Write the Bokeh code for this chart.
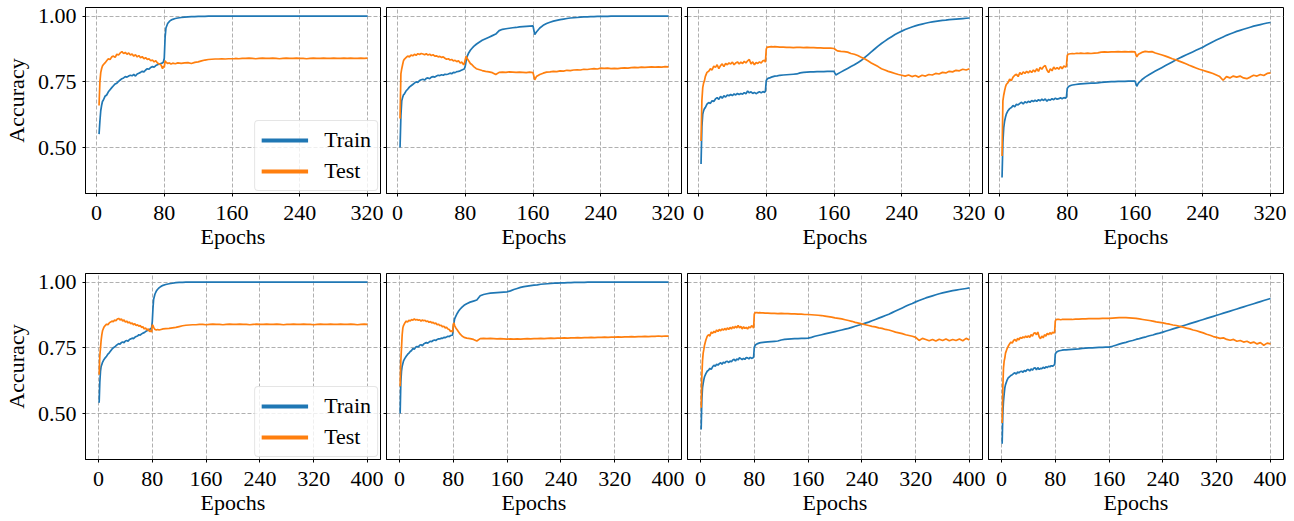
from bokeh.plotting import figure
from bokeh.layouts import column, row
from bokeh.models import Range1d, FixedTicker, NumeralTickFormatter, Legend, LegendItem
from bokeh.embed import file_html
from bokeh.resources import INLINE

FONT = "Liberation Serif"
BLUE = "#1f77b4"
ORANGE = "#ff7f0e"

XTICKS_TOP = [0, 80, 160, 240, 320]
XTICKS_BOTTOM = [0, 80, 160, 240, 320, 400]
YTICKS = [0.5, 0.75, 1.0]
X_LABEL = "Epochs"
Y_LABEL = "Accuracy"
SERIES = ["Train", "Test"]

# ---------------- top row (320 epochs) ----------------
TOP_EPOCHS = [3, 4, 5, 6, 7, 8, 10, 12, 14, 16, 18, 20, 22, 24, 26, 28, 30, 32, 34, 36,
              38, 40, 42, 44, 46, 48, 50, 52, 54, 56, 58, 60, 62, 64, 66, 68, 70, 72, 74, 76, 78, 79,
              80, 81, 82, 84, 86, 88, 90, 93, 96, 100,
              104, 108, 112, 116, 120, 124, 128, 132, 136, 140, 144, 148, 152, 156, 160, 162,
              164, 168, 172, 176, 180, 184, 188, 192, 196, 200, 204, 208, 212, 216, 220, 224, 228, 232, 236, 240,
              244, 248, 252, 256, 260, 264, 268, 272, 276, 280, 284, 288, 292, 296, 300, 304, 308, 312, 316, 320]

P1_TRAIN = [0.551, 0.600, 0.640, 0.660, 0.675, 0.680, 0.695, 0.700, 0.712, 0.720,
            0.728, 0.735, 0.742, 0.745, 0.752, 0.757, 0.762, 0.765, 0.770, 0.768,
            0.772, 0.775, 0.773, 0.778, 0.772, 0.780, 0.783, 0.786, 0.790, 0.788,
            0.795, 0.800, 0.798, 0.805, 0.808, 0.806, 0.812, 0.815, 0.818, 0.820,
            0.822, 0.826,
            0.840, 0.920, 0.955, 0.972, 0.980, 0.985, 0.988, 0.991, 0.993, 0.995,
            0.996, 0.997, 0.998, 0.998, 0.999, 0.999, 0.999, 1.0, 1.0, 1.0, 1.0, 1.0, 1.0, 1.0, 1.0, 1.0,
            1.0, 1.0, 1.0, 1.0, 1.0, 1.0, 1.0, 1.0, 1.0, 1.0, 1.0, 1.0, 1.0, 1.0, 1.0, 1.0, 1.0, 1.0, 1.0, 1.0,
            1.0, 1.0, 1.0, 1.0, 1.0, 1.0, 1.0, 1.0, 1.0, 1.0, 1.0, 1.0, 1.0, 1.0, 1.0, 1.0, 1.0, 1.0, 1.0, 1.0]
P1_TEST = [0.660, 0.750, 0.785, 0.800, 0.810, 0.815, 0.822, 0.830, 0.838, 0.835,
           0.845, 0.848, 0.843, 0.855, 0.852, 0.860, 0.865, 0.858, 0.862, 0.855,
           0.860, 0.852, 0.856, 0.848, 0.853, 0.845, 0.850, 0.842, 0.846, 0.838,
           0.842, 0.835, 0.838, 0.830, 0.833, 0.826, 0.830, 0.822, 0.818, 0.815,
           0.800, 0.810,
           0.805, 0.830, 0.825, 0.820, 0.822, 0.818, 0.821, 0.819, 0.822, 0.820,
           0.822, 0.823, 0.820, 0.824, 0.826, 0.830, 0.833, 0.835, 0.836, 0.837, 0.837, 0.838, 0.837, 0.838, 0.838, 0.838,
           0.839, 0.838, 0.839, 0.839, 0.840, 0.839, 0.838, 0.839, 0.840, 0.839, 0.839, 0.840, 0.839, 0.838, 0.839, 0.840, 0.839, 0.839, 0.840, 0.839,
           0.839, 0.838, 0.839, 0.840, 0.839, 0.839, 0.840, 0.839, 0.839, 0.840, 0.839, 0.839, 0.840, 0.839, 0.840, 0.839, 0.839, 0.840, 0.839, 0.840]

P2_TRAIN = [0.500, 0.620, 0.678, 0.690, 0.700, 0.703, 0.715, 0.722, 0.730, 0.735,
            0.740, 0.745, 0.750, 0.748, 0.755, 0.758, 0.760, 0.757, 0.763, 0.765,
            0.762, 0.768, 0.770, 0.768, 0.772, 0.775, 0.774, 0.777, 0.775, 0.779,
            0.778, 0.780, 0.783, 0.781, 0.786, 0.785, 0.789, 0.790, 0.792, 0.795,
            0.798, 0.800,
            0.810, 0.830, 0.845, 0.860, 0.870, 0.878, 0.885, 0.893, 0.900, 0.908,
            0.914, 0.920, 0.926, 0.932, 0.945, 0.950, 0.952, 0.954, 0.956, 0.957, 0.959, 0.960, 0.961, 0.962, 0.963, 0.930,
            0.940, 0.955, 0.965, 0.972, 0.977, 0.981, 0.984, 0.987, 0.989, 0.991, 0.993, 0.994, 0.995, 0.996, 0.997, 0.997, 0.998, 0.998, 0.999, 0.999,
            0.999, 0.999, 1.0, 1.0, 1.0, 1.0, 1.0, 1.0, 1.0, 1.0, 1.0, 1.0, 1.0, 1.0, 1.0, 1.0, 1.0, 1.0, 1.0, 1.0]
P2_TEST = [0.610, 0.780, 0.800, 0.815, 0.830, 0.836, 0.842, 0.848, 0.845, 0.852,
           0.849, 0.855, 0.851, 0.857, 0.854, 0.858, 0.856, 0.853, 0.857, 0.852,
           0.855, 0.850, 0.853, 0.848, 0.849, 0.845, 0.847, 0.843, 0.845, 0.840,
           0.836, 0.838, 0.833, 0.835, 0.830, 0.832, 0.827, 0.830, 0.822, 0.825,
           0.815, 0.820,
           0.835, 0.848, 0.840, 0.830, 0.820, 0.815, 0.808, 0.800, 0.797, 0.793,
           0.790, 0.788, 0.785, 0.778, 0.786, 0.787, 0.786, 0.788, 0.787, 0.786, 0.787, 0.786, 0.785, 0.787, 0.785, 0.758,
           0.770, 0.778, 0.783, 0.787, 0.788, 0.790, 0.789, 0.792, 0.791, 0.794, 0.793, 0.795, 0.796, 0.795, 0.798, 0.797, 0.799, 0.800, 0.799, 0.802,
           0.801, 0.802, 0.800, 0.801, 0.800, 0.802, 0.803, 0.802, 0.804, 0.805, 0.804, 0.806, 0.805, 0.806, 0.807, 0.806, 0.807, 0.806, 0.808, 0.807]

P3_TRAIN = [0.437, 0.580, 0.627, 0.640, 0.648, 0.652, 0.665, 0.671, 0.668, 0.678,
            0.675, 0.685, 0.690, 0.683, 0.695, 0.688, 0.697, 0.692, 0.700, 0.697,
            0.702, 0.698, 0.704, 0.700, 0.706, 0.702, 0.706, 0.703, 0.709, 0.705,
            0.715, 0.708, 0.712, 0.706, 0.710, 0.705, 0.709, 0.712, 0.708, 0.713,
            0.710, 0.715,
            0.755, 0.760, 0.763, 0.765, 0.768, 0.770, 0.772, 0.773, 0.775, 0.776,
            0.777, 0.778, 0.779, 0.780, 0.784, 0.786, 0.787, 0.788, 0.788, 0.789, 0.789, 0.789, 0.790, 0.790, 0.790, 0.776,
            0.780, 0.787, 0.794, 0.801, 0.808, 0.815, 0.823, 0.831, 0.842, 0.853, 0.864, 0.875, 0.886, 0.896, 0.905, 0.914, 0.922, 0.930, 0.937, 0.943,
            0.949, 0.954, 0.959, 0.963, 0.967, 0.970, 0.973, 0.976, 0.978, 0.980, 0.982, 0.984, 0.985, 0.987, 0.988, 0.989, 0.990, 0.991, 0.992, 0.993]
P3_TEST = [0.525, 0.680, 0.728, 0.745, 0.754, 0.770, 0.786, 0.790, 0.800, 0.795,
           0.810, 0.805, 0.815, 0.800, 0.812, 0.818, 0.808, 0.820, 0.815, 0.822,
           0.818, 0.825, 0.815, 0.822, 0.826, 0.818, 0.825, 0.820, 0.828, 0.822,
           0.830, 0.835, 0.818, 0.826, 0.815, 0.824, 0.820, 0.826, 0.822, 0.830,
           0.832, 0.825,
           0.875, 0.882, 0.882, 0.883, 0.884, 0.883, 0.884, 0.883, 0.882, 0.882,
           0.881, 0.881, 0.880, 0.881, 0.881, 0.880, 0.881, 0.880, 0.880, 0.879, 0.879, 0.878, 0.878, 0.878, 0.877, 0.872,
           0.868, 0.866, 0.865, 0.863, 0.858, 0.855, 0.850, 0.844, 0.838, 0.830, 0.822, 0.815, 0.808, 0.800, 0.795, 0.790, 0.786, 0.782, 0.778, 0.775,
           0.772, 0.776, 0.770, 0.774, 0.768, 0.775, 0.772, 0.778, 0.776, 0.782, 0.780, 0.786, 0.784, 0.790, 0.788, 0.794, 0.792, 0.798, 0.795, 0.800]

P4_TRAIN = [0.386, 0.520, 0.576, 0.600, 0.615, 0.627, 0.640, 0.648, 0.652, 0.660,
            0.655, 0.665, 0.662, 0.668, 0.672, 0.666, 0.674, 0.670, 0.676, 0.672,
            0.679, 0.675, 0.680, 0.676, 0.682, 0.678, 0.684, 0.679, 0.685, 0.676,
            0.683, 0.680, 0.686, 0.682, 0.688, 0.684, 0.686, 0.689, 0.686, 0.690,
            0.688, 0.692,
            0.725, 0.730, 0.733, 0.736, 0.738, 0.739, 0.740, 0.741, 0.742, 0.743,
            0.744, 0.745, 0.745, 0.746, 0.748, 0.749, 0.750, 0.751, 0.751, 0.752, 0.752, 0.752, 0.753, 0.753, 0.753, 0.733,
            0.745, 0.758, 0.768, 0.776, 0.784, 0.791, 0.798, 0.805, 0.812, 0.819, 0.826, 0.833, 0.840, 0.846, 0.852, 0.858, 0.864, 0.870, 0.876, 0.882,
            0.889, 0.896, 0.903, 0.909, 0.915, 0.921, 0.927, 0.932, 0.937, 0.942, 0.946, 0.950, 0.954, 0.958, 0.962, 0.965, 0.968, 0.971, 0.974, 0.976]
P4_TEST = [0.468, 0.678, 0.700, 0.716, 0.730, 0.740, 0.747, 0.760, 0.755, 0.768,
           0.775, 0.779, 0.770, 0.785, 0.778, 0.788, 0.782, 0.790, 0.784, 0.792,
           0.786, 0.795, 0.788, 0.800, 0.790, 0.805, 0.798, 0.808, 0.812, 0.795,
           0.785, 0.800, 0.792, 0.806, 0.798, 0.804, 0.798, 0.808, 0.800, 0.810,
           0.806, 0.810,
           0.850, 0.855, 0.856, 0.857, 0.858, 0.857, 0.858, 0.858, 0.859, 0.858,
           0.859, 0.858, 0.859, 0.860, 0.863, 0.864, 0.863, 0.864, 0.864, 0.865, 0.864, 0.865, 0.864, 0.865, 0.864, 0.845,
           0.855, 0.862, 0.866, 0.864, 0.865, 0.860, 0.856, 0.852, 0.848, 0.843, 0.838, 0.834, 0.829, 0.824, 0.819, 0.813, 0.808, 0.803, 0.798, 0.794,
           0.790, 0.786, 0.782, 0.776, 0.770, 0.756, 0.770, 0.765, 0.772, 0.768, 0.772, 0.765, 0.762, 0.768, 0.775, 0.772, 0.778, 0.774, 0.782, 0.784]

# ---------------- bottom row (400 epochs) ----------------
BOTTOM_EPOCHS = [1, 2, 3, 4, 5, 6, 8, 10, 12, 14, 16, 18, 20, 22, 24, 26, 28, 30, 32, 34,
                 36, 38, 40, 42, 44, 46, 48, 50, 52, 54, 56, 58, 60, 62, 64, 66, 68, 70, 72, 74, 76, 78, 79,
                 80, 81, 82, 84, 86, 88, 90, 93, 96, 100,
                 105, 110, 115, 120, 125, 130, 135, 140, 145, 150, 155, 160, 165, 170, 175, 180, 185, 190, 195, 200,
                 205, 210, 215, 220, 225, 230, 235, 240, 245, 250, 255, 260, 265, 270, 275, 280, 285, 290, 295, 300,
                 305, 310, 315, 320, 325, 330, 335, 340, 345, 350, 355, 360, 365, 370, 375, 380, 385, 390, 395, 400]

P5_TRAIN = [0.541, 0.620, 0.661, 0.680, 0.687, 0.695, 0.705, 0.712, 0.718, 0.726,
            0.731, 0.738, 0.745, 0.750, 0.753, 0.758, 0.762, 0.766, 0.764, 0.770,
            0.772, 0.770, 0.776, 0.778, 0.775, 0.782, 0.784, 0.787, 0.785, 0.790,
            0.793, 0.795, 0.800, 0.798, 0.803, 0.806, 0.808, 0.812, 0.815, 0.818,
            0.820, 0.824, 0.826,
            0.850, 0.900, 0.935, 0.955, 0.966, 0.973, 0.978, 0.984, 0.988, 0.991,
            0.994, 0.996, 0.998, 0.999, 0.999, 1.0, 1.0, 1.0, 1.0, 1.0,
            1.0, 1.0, 1.0, 1.0, 1.0, 1.0, 1.0, 1.0, 1.0, 1.0,
            1.0, 1.0, 1.0, 1.0, 1.0, 1.0, 1.0, 1.0, 1.0, 1.0,
            1.0, 1.0, 1.0, 1.0, 1.0, 1.0, 1.0, 1.0, 1.0, 1.0,
            1.0, 1.0, 1.0, 1.0, 1.0, 1.0, 1.0, 1.0, 1.0, 1.0,
            1.0, 1.0, 1.0, 1.0, 1.0, 1.0, 1.0, 1.0, 1.0, 1.0]
P5_TEST = [0.648, 0.720, 0.750, 0.780, 0.800, 0.815, 0.828, 0.835, 0.840, 0.838,
           0.845, 0.848, 0.852, 0.849, 0.856, 0.853, 0.860, 0.862, 0.856, 0.860,
           0.852, 0.856, 0.848, 0.852, 0.845, 0.848, 0.842, 0.845, 0.838, 0.842,
           0.835, 0.838, 0.832, 0.835, 0.828, 0.830, 0.822, 0.826, 0.818, 0.822,
           0.812, 0.815, 0.810,
           0.838, 0.835, 0.828, 0.820, 0.818, 0.820, 0.818, 0.820, 0.822, 0.823,
           0.824, 0.826, 0.828, 0.831, 0.834, 0.836, 0.837, 0.838, 0.838, 0.839,
           0.839, 0.838, 0.839, 0.840, 0.839, 0.839, 0.838, 0.839, 0.840, 0.839,
           0.839, 0.840, 0.839, 0.839, 0.838, 0.839, 0.840, 0.839, 0.839, 0.840,
           0.839, 0.839, 0.840, 0.839, 0.838, 0.839, 0.839, 0.840, 0.839, 0.839,
           0.840, 0.839, 0.839, 0.838, 0.839, 0.840, 0.839, 0.839, 0.840, 0.839,
           0.839, 0.840, 0.839, 0.839, 0.840, 0.839, 0.838, 0.839, 0.840, 0.839]

P6_TRAIN = [0.500, 0.620, 0.661, 0.680, 0.690, 0.700, 0.710, 0.718, 0.725, 0.730,
            0.736, 0.740, 0.748, 0.745, 0.752, 0.755, 0.753, 0.760, 0.762, 0.758,
            0.765, 0.768, 0.770, 0.768, 0.772, 0.775, 0.774, 0.778, 0.780, 0.778,
            0.782, 0.784, 0.784, 0.787, 0.786, 0.790, 0.789, 0.791, 0.794, 0.793,
            0.797, 0.798, 0.800,
            0.830, 0.845, 0.860, 0.872, 0.882, 0.890, 0.897, 0.905, 0.912, 0.918,
            0.924, 0.928, 0.932, 0.948, 0.953, 0.956, 0.958, 0.959, 0.960, 0.961,
            0.962, 0.963, 0.967, 0.972, 0.976, 0.980, 0.983, 0.985, 0.987, 0.989,
            0.990, 0.992, 0.993, 0.994, 0.995, 0.996, 0.996, 0.997, 0.997, 0.998,
            0.998, 0.999, 0.999, 0.999, 0.999, 1.0, 1.0, 1.0, 1.0, 1.0,
            1.0, 1.0, 1.0, 1.0, 1.0, 1.0, 1.0, 1.0, 1.0, 1.0,
            1.0, 1.0, 1.0, 1.0, 1.0, 1.0, 1.0, 1.0, 1.0, 1.0]
P6_TEST = [0.604, 0.700, 0.750, 0.800, 0.826, 0.835, 0.845, 0.852, 0.848, 0.855,
           0.852, 0.858, 0.855, 0.860, 0.856, 0.858, 0.855, 0.857, 0.852, 0.856,
           0.853, 0.855, 0.850, 0.852, 0.847, 0.850, 0.845, 0.847, 0.842, 0.844,
           0.838, 0.840, 0.835, 0.836, 0.830, 0.832, 0.826, 0.828, 0.822, 0.820,
           0.812, 0.815, 0.810,
           0.840, 0.845, 0.835, 0.825, 0.818, 0.810, 0.803, 0.795, 0.790, 0.787,
           0.785, 0.782, 0.776, 0.785, 0.786, 0.785, 0.786, 0.785, 0.784, 0.785,
           0.784, 0.783, 0.784, 0.783, 0.784, 0.783, 0.784, 0.785, 0.784, 0.785,
           0.785, 0.786, 0.785, 0.786, 0.787, 0.786, 0.787, 0.787, 0.788, 0.787,
           0.788, 0.788, 0.789, 0.788, 0.789, 0.789, 0.790, 0.789, 0.790, 0.790,
           0.791, 0.790, 0.791, 0.791, 0.792, 0.791, 0.792, 0.792, 0.793, 0.792,
           0.793, 0.793, 0.794, 0.793, 0.794, 0.794, 0.795, 0.794, 0.795, 0.795]

P7_TRAIN = [0.439, 0.550, 0.598, 0.615, 0.629, 0.640, 0.652, 0.661, 0.665, 0.672,
            0.668, 0.678, 0.684, 0.680, 0.688, 0.684, 0.690, 0.693, 0.688, 0.695,
            0.692, 0.698, 0.699, 0.694, 0.700, 0.697, 0.704, 0.706, 0.700, 0.708,
            0.704, 0.712, 0.709, 0.705, 0.710, 0.706, 0.713, 0.712, 0.708, 0.714,
            0.710, 0.712, 0.715,
            0.752, 0.758, 0.762, 0.765, 0.767, 0.769, 0.770, 0.771, 0.772, 0.773,
            0.774, 0.775, 0.776, 0.780, 0.782, 0.783, 0.784, 0.785, 0.785, 0.786,
            0.786, 0.787, 0.790, 0.794, 0.797, 0.800, 0.803, 0.806, 0.809, 0.812,
            0.815, 0.818, 0.821, 0.824, 0.828, 0.832, 0.836, 0.840, 0.844, 0.848,
            0.853, 0.858, 0.863, 0.868, 0.873, 0.878, 0.884, 0.890, 0.896, 0.902,
            0.908, 0.914, 0.919, 0.925, 0.930, 0.935, 0.940, 0.944, 0.948, 0.952,
            0.956, 0.959, 0.962, 0.965, 0.968, 0.970, 0.972, 0.974, 0.976, 0.978]
P7_TEST = [0.522, 0.640, 0.700, 0.730, 0.744, 0.760, 0.780, 0.794, 0.800, 0.795,
           0.810, 0.805, 0.813, 0.808, 0.818, 0.812, 0.820, 0.815, 0.822, 0.817,
           0.824, 0.818, 0.826, 0.820, 0.828, 0.822, 0.830, 0.825, 0.832, 0.826,
           0.835, 0.826, 0.832, 0.822, 0.830, 0.824, 0.828, 0.822, 0.830, 0.826,
           0.834, 0.830, 0.825,
           0.878, 0.883, 0.884, 0.884, 0.883, 0.884, 0.883, 0.883, 0.882, 0.882,
           0.881, 0.881, 0.880, 0.881, 0.880, 0.880, 0.879, 0.879, 0.878, 0.878,
           0.877, 0.877, 0.876, 0.875, 0.874, 0.873, 0.871, 0.869, 0.867, 0.864,
           0.862, 0.860, 0.857, 0.854, 0.851, 0.847, 0.844, 0.841, 0.838, 0.835,
           0.832, 0.830, 0.826, 0.824, 0.820, 0.818, 0.814, 0.810, 0.807, 0.804,
           0.800, 0.797, 0.794, 0.790, 0.778, 0.786, 0.782, 0.777, 0.782, 0.776,
           0.783, 0.778, 0.784, 0.777, 0.782, 0.778, 0.784, 0.777, 0.786, 0.780]

P8_TRAIN = [0.385, 0.500, 0.547, 0.575, 0.598, 0.610, 0.625, 0.636, 0.640, 0.645,
            0.648, 0.652, 0.655, 0.650, 0.658, 0.655, 0.660, 0.661, 0.657, 0.664,
            0.660, 0.667, 0.667, 0.662, 0.670, 0.665, 0.672, 0.674, 0.666, 0.675,
            0.668, 0.672, 0.671, 0.676, 0.672, 0.678, 0.675, 0.680, 0.678, 0.682,
            0.680, 0.684, 0.686,
            0.726, 0.731, 0.734, 0.737, 0.739, 0.740, 0.741, 0.742, 0.742, 0.743,
            0.744, 0.745, 0.746, 0.748, 0.749, 0.750, 0.750, 0.751, 0.752, 0.752,
            0.753, 0.753, 0.756, 0.760, 0.764, 0.768, 0.771, 0.775, 0.778, 0.782,
            0.785, 0.789, 0.792, 0.796, 0.799, 0.803, 0.806, 0.810, 0.814, 0.818,
            0.822, 0.826, 0.830, 0.834, 0.838, 0.842, 0.846, 0.850, 0.854, 0.858,
            0.862, 0.866, 0.870, 0.874, 0.878, 0.882, 0.886, 0.890, 0.894, 0.898,
            0.902, 0.906, 0.910, 0.914, 0.918, 0.922, 0.926, 0.930, 0.934, 0.938]
P8_TEST = [0.464, 0.600, 0.674, 0.700, 0.712, 0.730, 0.745, 0.756, 0.765, 0.772,
           0.768, 0.778, 0.782, 0.775, 0.786, 0.780, 0.790, 0.786, 0.792, 0.788,
           0.795, 0.790, 0.796, 0.790, 0.800, 0.795, 0.805, 0.807, 0.800, 0.810,
           0.792, 0.785, 0.795, 0.788, 0.800, 0.795, 0.805, 0.800, 0.808, 0.802,
           0.810, 0.806, 0.810,
           0.852, 0.857, 0.858, 0.858, 0.858, 0.857, 0.858, 0.858, 0.858, 0.858,
           0.858, 0.859, 0.859, 0.860, 0.860, 0.861, 0.861, 0.861, 0.861, 0.862,
           0.862, 0.862, 0.863, 0.864, 0.865, 0.865, 0.865, 0.864, 0.863, 0.862,
           0.860, 0.858, 0.856, 0.854, 0.852, 0.849, 0.847, 0.845, 0.842, 0.840,
           0.837, 0.835, 0.832, 0.829, 0.825, 0.822, 0.818, 0.815, 0.811, 0.807,
           0.802, 0.798, 0.793, 0.790, 0.786, 0.788, 0.782, 0.779, 0.782, 0.775,
           0.778, 0.772, 0.775, 0.768, 0.772, 0.765, 0.770, 0.760, 0.768, 0.765]


def make_panel(xs, train, test, xticks, xr, first, top_row):
    if not (len(xs) == len(train) == len(test)):
        raise ValueError("length mismatch %d %d %d" % (len(xs), len(train), len(test)))
    p = figure(frame_width=295, frame_height=186,
               x_range=Range1d(*xr), y_range=Range1d(0.325, 1.033),
               output_backend="svg", toolbar_location=None,
               min_border_left=84 if first else 3, min_border_right=3,
               min_border_top=7 if top_row else 12,
               min_border_bottom=68 if top_row else 58)
    p.background_fill_color = "white"
    p.border_fill_color = "white"
    p.outline_line_color = "black"
    p.outline_line_width = 1
    p.outline_line_alpha = 1

    p.line(xs, train, color=BLUE, line_width=1.7)
    p.line(xs, test, color=ORANGE, line_width=1.7)

    for ax in (p.xaxis[0], p.yaxis[0]):
        ax.axis_line_color = "black"
        ax.major_tick_line_color = "black"
        ax.major_tick_out = 3
        ax.major_tick_in = 0
        ax.minor_tick_line_color = None
        ax.major_label_text_font = FONT
        ax.major_label_text_font_size = "22px"
        ax.major_label_text_color = "black"
        ax.axis_label_text_font = FONT
        ax.axis_label_text_font_size = "22px"
        ax.axis_label_text_font_style = "normal"
        ax.axis_label_text_color = "black"

    p.xaxis.ticker = FixedTicker(ticks=xticks)
    p.yaxis.ticker = FixedTicker(ticks=YTICKS)
    p.xaxis.axis_label = X_LABEL
    p.xaxis.major_label_standoff = 9
    p.xaxis.axis_label_standoff = 1
    if first:
        p.yaxis.formatter = NumeralTickFormatter(format="0.00")
        p.yaxis.axis_label = Y_LABEL
        p.yaxis.major_label_standoff = 6
        p.yaxis.axis_label_standoff = 6
    else:
        p.yaxis.major_label_overrides = {t: "" for t in YTICKS}
        p.yaxis.major_label_standoff = 0

    for g, t in ((p.xgrid[0], xticks), (p.ygrid[0], YTICKS)):
        g.ticker = FixedTicker(ticks=t)
        g.grid_line_color = "#b0b0b0"
        g.grid_line_dash = "4 2"
        g.grid_line_width = 1

    if first:
        nan = float("nan")
        lt = p.line([nan], [nan], color=BLUE, line_width=4)
        lo = p.line([nan], [nan], color=ORANGE, line_width=4)
        leg = Legend(items=[LegendItem(label=SERIES[0], renderers=[lt]),
                            LegendItem(label=SERIES[1], renderers=[lo])],
                     location="bottom_right")
        leg.label_text_font = FONT
        leg.label_text_font_size = "22px"
        leg.label_text_color = "black"
        leg.glyph_width = 47
        leg.glyph_height = 22
        leg.label_height = 22
        leg.label_standoff = 16
        leg.padding = 6
        leg.spacing = 5
        leg.margin = 2
        leg.border_line_color = "#cccccc"
        leg.border_line_width = 1
        leg.background_fill_alpha = 0.8
        if "border_radius" in Legend.properties():
            leg.border_radius = 4
        p.add_layout(leg)
    return p


TOP_RANGE = (-13, 335.3)
BOTTOM_RANGE = (-19.3, 419.3)

top = [make_panel(TOP_EPOCHS, tr, te, XTICKS_TOP, TOP_RANGE, i == 0, True)
       for i, (tr, te) in enumerate([(P1_TRAIN, P1_TEST), (P2_TRAIN, P2_TEST),
                                     (P3_TRAIN, P3_TEST), (P4_TRAIN, P4_TEST)])]
bottom = [make_panel(BOTTOM_EPOCHS, tr, te, XTICKS_BOTTOM, BOTTOM_RANGE, i == 0, False)
          for i, (tr, te) in enumerate([(P5_TRAIN, P5_TEST), (P6_TRAIN, P6_TEST),
                                        (P7_TRAIN, P7_TEST), (P8_TRAIN, P8_TEST)])]

layout = column(row(*top), row(*bottom))
open("out.html", "w").write(file_html(layout, INLINE))
